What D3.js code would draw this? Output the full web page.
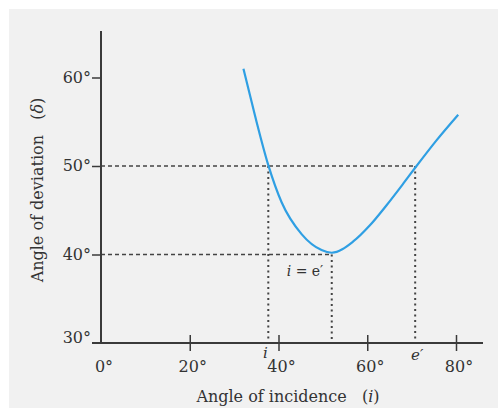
<!DOCTYPE html>
<html>
<head>
<meta charset="utf-8">
<script src="https://cdn.jsdelivr.net/npm/d3@7"></script>
<style>
  body { margin: 0; background: #fff; }
  text { font-family: "DejaVu Serif", "Liberation Serif", serif; fill: #333; }
</style>
</head>
<body>
<div id="chart"></div>
<script>
// curve: angle of incidence vs angle of deviation
const incidence = [32.1, 34.7, 37.7, 40.7, 45.2, 49.7, 52.0, 56.9, 60.6, 64.4, 68.1, 70.8, 75.6, 80.5];
const deviation = [61.0, 55.7, 50.1, 45.9, 42.3, 40.5, 40.2, 41.5, 43.3, 45.6, 48.0, 49.8, 52.9, 55.8];

const xTicks = [0, 20, 40, 60, 80];
const yTicks = [30, 40, 50, 60];

// marked angles
const iAt50 = 37.7, eAt50 = 70.8, iMin = 52.0, dMin = 40;

const W = 498, H = 409;
const svg = d3.select("#chart").append("svg")
  .attr("width", W)
  .attr("height", H);

svg.append("rect")
  .attr("x", 9).attr("y", 9)
  .attr("width", W - 9).attr("height", H - 10)
  .attr("fill", "#f1f1f1");

const x = d3.scaleLinear().domain([0, 80]).range([101, 456]);
const y = d3.scaleLinear().domain([30, 60]).range([343, 77.5]);

const axisCol = "#3a3a3a";

// dashed guide lines
const guides = svg.append("g")
  .attr("stroke", "#444")
  .attr("fill", "none");

guides.append("line")
  .attr("x1", x(0)).attr("x2", x(eAt50))
  .attr("y1", y(50)).attr("y2", y(50))
  .attr("stroke-width", 1.3)
  .attr("stroke-dasharray", "4,3");

guides.append("line")
  .attr("x1", x(0)).attr("x2", x(iMin))
  .attr("y1", y(dMin)).attr("y2", y(dMin))
  .attr("stroke-width", 1.3)
  .attr("stroke-dasharray", "4,3");

[[iAt50, 50], [eAt50, 50], [iMin, dMin]].forEach(([a, d]) => {
  guides.append("line")
    .attr("x1", x(a)).attr("x2", x(a))
    .attr("y1", y(d)).attr("y2", y(30))
    .attr("stroke-width", 2)
    .attr("stroke-dasharray", "2,3.5");
});

// axes
const gx = svg.append("g")
  .attr("transform", `translate(0,${y(30)})`)
  .call(d3.axisBottom(x).tickValues(xTicks.slice(1)).tickSize(8).tickFormat(""));
gx.select(".domain").remove();
gx.selectAll(".tick line")
  .attr("y1", -8).attr("y2", 8)
  .attr("stroke", axisCol).attr("stroke-width", 1.5);

const gy = svg.append("g")
  .attr("transform", `translate(${x(0)},0)`)
  .call(d3.axisLeft(y).tickValues(yTicks.slice(1)).tickSize(9).tickFormat(""));
gy.select(".domain").remove();
gy.selectAll(".tick line")
  .attr("stroke", axisCol).attr("stroke-width", 1.5);

svg.append("line")
  .attr("x1", 92).attr("x2", 483)
  .attr("y1", y(30)).attr("y2", y(30))
  .attr("stroke", axisCol).attr("stroke-width", 2);
svg.append("line")
  .attr("x1", x(0)).attr("x2", x(0))
  .attr("y1", 31).attr("y2", y(30))
  .attr("stroke", axisCol).attr("stroke-width", 2);

// tick labels
svg.selectAll(".xl")
  .data(xTicks)
  .enter().append("text")
  .attr("class", "xl")
  .attr("x", d => x(d) + 3)
  .attr("y", 372)
  .attr("text-anchor", "middle")
  .style("font-size", "16px")
  .text(d => d + "°");

svg.selectAll(".yl")
  .data(yTicks)
  .enter().append("text")
  .attr("class", "yl")
  .attr("x", 91)
  .attr("y", d => y(d) + (d === 30 ? 0 : 5))
  .attr("text-anchor", "end")
  .style("font-size", "16px")
  .text(d => d + "°");

// axis titles
svg.append("text")
  .attr("x", 288).attr("y", 402)
  .attr("text-anchor", "middle")
  .style("font-size", "16px")
  .attr("xml:space", "preserve")
  .html('Angle of incidence   (<tspan font-style="italic">i</tspan>)');

svg.append("text")
  .attr("transform", "translate(43,190) rotate(-90)")
  .attr("text-anchor", "middle")
  .style("font-size", "16px")
  .attr("xml:space", "preserve")
  .html('Angle of deviation   (<tspan font-style="italic">δ</tspan>)');

// curve
const pts = incidence.map((a, k) => [a, deviation[k]]);
const line = d3.line()
  .x(d => x(d[0]))
  .y(d => y(d[1]))
  .curve(d3.curveMonotoneX);

svg.append("path")
  .datum(pts)
  .attr("d", line)
  .attr("fill", "none")
  .attr("stroke", "#2f9fe3")
  .attr("stroke-width", 2.2);

// annotations
svg.append("text")
  .attr("x", x(iAt50) - 3).attr("y", 358)
  .attr("text-anchor", "middle")
  .style("font-size", "15px")
  .style("font-style", "italic")
  .text("i");

svg.append("text")
  .attr("x", x(eAt50) + 2).attr("y", 360)
  .attr("text-anchor", "middle")
  .style("font-size", "15px")
  .style("font-style", "italic")
  .text("e′");

svg.append("text")
  .attr("x", 305).attr("y", 276)
  .attr("text-anchor", "middle")
  .style("font-size", "14px")
  .html('<tspan font-style="italic">i</tspan> = e′');
</script>
</body>
</html>
